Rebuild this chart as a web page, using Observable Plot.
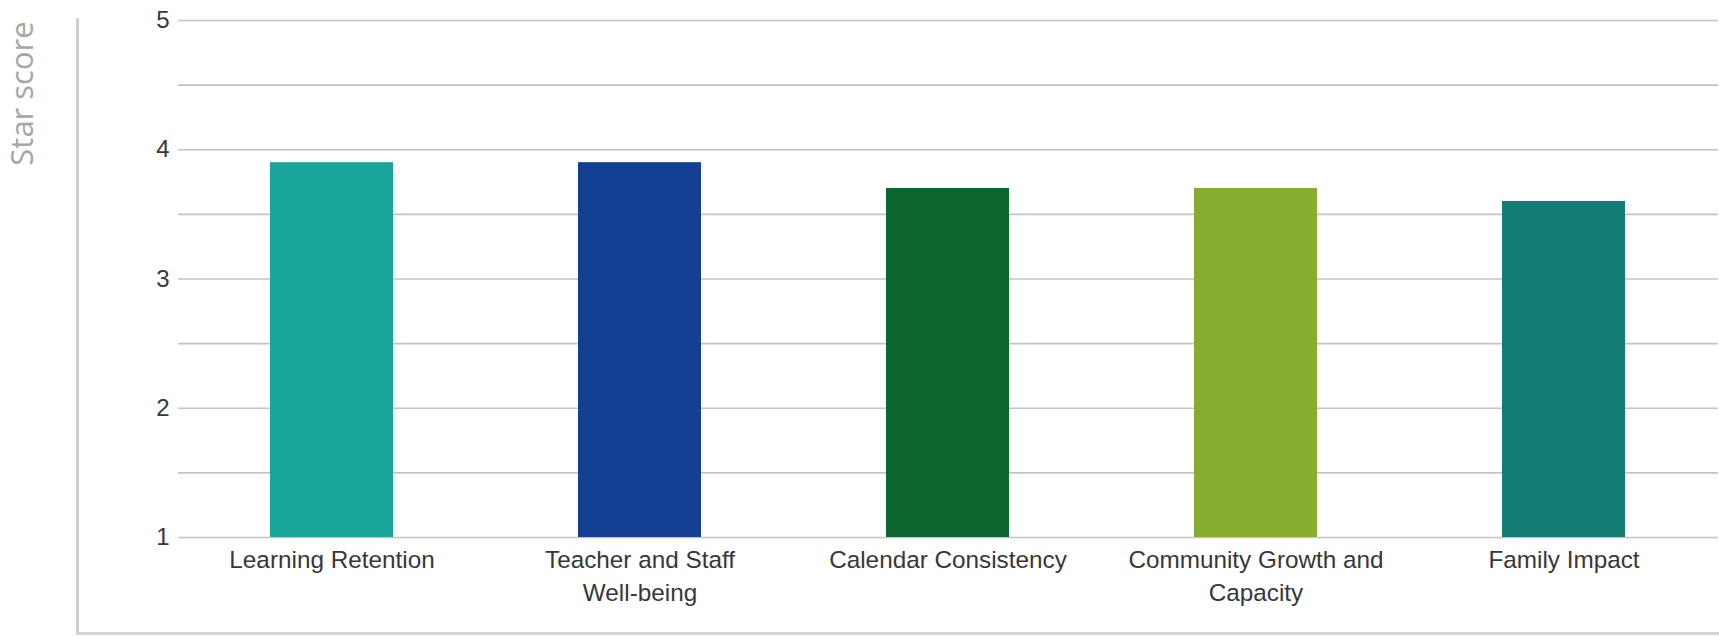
<!DOCTYPE html>
<html><head><meta charset="utf-8">
<script src="https://cdn.jsdelivr.net/npm/d3@7"></script>
<script src="https://cdn.jsdelivr.net/npm/@observablehq/plot@0.6"></script>
<style>
html,body{margin:0;padding:0;background:#fff;}
#wrap{position:relative;width:1719px;height:638px;overflow:hidden;}
#box{position:absolute;left:76px;top:18px;width:1700px;height:614px;border-left:3px solid #cfcfcf;border-bottom:3px solid #d6d6d6;}
#chart{position:absolute;left:0;top:0;}
</style></head><body>
<div id="wrap"><div id="box"></div><div id="chart"></div></div>
<script>
const categories = ["Learning Retention","Teacher and Staff Well-being","Calendar Consistency","Community Growth and Capacity","Family Impact"];
const tickLabels = ["Learning Retention","Teacher and Staff\nWell-being","Calendar Consistency","Community Growth and\nCapacity","Family Impact"];
const scores = [3.9, 3.9, 3.7, 3.7, 3.6];
const colors = ["#19a59a","#134093","#0b672e","#86ad2f","#147c74"];
const yTicks = [1, 2, 3, 4, 5];
const yTickLabels = ["1", "2", "3", "4", "5"];
const gridValues = [1, 1.5, 2, 2.5, 3, 3.5, 4, 4.5, 5];
const yLabel = "Star score";

const data = categories.map((c, i) => ({category: c, score: scores[i]}));

const plot = Plot.plot({
  width: 1719, height: 638,
  marginLeft: 178, marginRight: 1, marginTop: 20, marginBottom: 101,
  style: {fontFamily: "'Liberation Sans', Arial, sans-serif", background: "transparent", color: "#383838"},
  x: {domain: categories, paddingInner: 0.6, paddingOuter: 0.3, label: null},
  y: {domain: [1, 5], label: null},
  color: {domain: categories, range: colors},
  marks: [
    Plot.gridY(gridValues, {stroke: "#c4c4c4", strokeOpacity: 1, strokeWidth: 1.6}),
    Plot.barY(data, {x: "category", y1: 1, y2: "score", fill: "category"}),
    Plot.axisY(yTicks, {tickSize: 0, tickPadding: 9, fontSize: 24, label: null,
      tickFormat: d => yTickLabels[yTicks.indexOf(d)]}),
    Plot.axisX({tickSize: 0, tickPadding: 8, fontSize: 24.3, lineHeight: 1.33,
      tickFormat: d => tickLabels[categories.indexOf(d)], label: null}),
    Plot.text([yLabel], {text: d => d, frameAnchor: "top-left", rotate: -90, dx: -155.5, dy: 73,
      fontSize: 31, fill: "#a6a6a6", fontFamily: "'Open Sans', sans-serif",
      textAnchor: "middle", lineAnchor: "middle"})
  ]
});
document.getElementById("chart").appendChild(plot);
</script>
</body></html>
